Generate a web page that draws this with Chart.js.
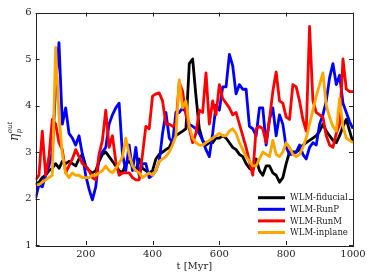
<!DOCTYPE html>
<html>
<head>
<meta charset="utf-8">
<script src="https://cdn.jsdelivr.net/npm/chart.js@4.4.0/dist/chart.umd.min.js"></script>
<style>
  html, body { margin: 0; padding: 0; background: #fff; }
  canvas { display: block; }
</style>
</head>
<body>
<canvas id="etaChart" width="374" height="280"></canvas>
<script>
// time in Myr
var times = [50, 60, 70, 80, 90, 100, 110, 120, 130, 140,
  150, 160, 170, 180, 190, 200, 210, 220, 230, 240,
  250, 260, 270, 280, 290, 300, 310, 320, 330, 340,
  350, 360, 370, 380, 390, 400, 410, 420, 430, 440,
  450, 460, 470, 480, 490, 500, 510, 520, 530, 540,
  550, 560, 570, 580, 590, 600, 610, 620, 630, 640,
  650, 660, 670, 680, 690, 700, 710, 720, 730, 740,
  750, 760, 770, 780, 790, 800, 810, 820, 830, 840,
  850, 860, 870, 880, 890, 900, 910, 920, 930, 940,
  950, 960, 970, 980, 990, 1000];

var fiducial = [2.3, 2.35, 2.45, 2.5, 2.6, 2.65, 2.75, 2.65, 2.8, 2.75,
  2.8, 2.75, 2.7, 2.85, 2.95, 2.7, 2.6, 2.55, 2.6, 2.8,
  2.95, 3.0, 2.9, 2.8, 2.7, 2.6, 2.55, 2.75, 2.8, 2.7,
  2.6, 2.85, 2.65, 2.6, 2.55, 2.6, 2.85, 2.95, 3.0, 3.05,
  3.1, 3.25, 3.35, 3.4, 3.45, 3.5, 4.9, 5.0, 4.2, 3.5,
  3.25, 3.15, 3.2, 3.2, 3.3, 3.3, 3.35, 3.3, 3.2, 3.1,
  3.05, 2.95, 2.9, 2.75, 2.65, 2.6, 2.85, 2.6, 2.5, 2.7,
  2.7, 2.55, 2.5, 2.35, 2.45, 2.75, 3.0, 3.0, 3.0, 3.05,
  3.15, 3.2, 3.25, 3.3, 3.35, 3.45, 3.6, 3.45, 3.35, 3.25,
  3.2, 3.35, 3.55, 3.7, 3.45, 3.2];

var runP = [2.0, 2.3, 2.25, 2.5, 2.7, 3.0, 4.4, 5.35, 3.6, 3.95,
  3.4, 3.3, 3.15, 3.35, 2.95, 2.5, 2.2, 1.97, 2.25, 2.9,
  3.0, 3.1, 3.6, 3.8, 3.95, 4.05, 2.95, 2.6, 3.15, 2.6,
  3.1, 2.5, 2.75, 2.75, 2.45, 2.5, 2.6, 2.8, 3.4, 3.85,
  3.3, 3.2, 3.85, 3.85, 3.95, 3.85, 3.6, 3.55, 3.5, 3.4,
  3.25, 3.05, 2.9, 3.4, 4.0, 3.9, 4.4, 4.4, 5.1, 4.85,
  4.25, 4.45, 4.35, 4.35, 3.55, 3.5, 3.35, 3.95, 3.95, 3.15,
  3.7, 3.95, 3.35, 3.8, 3.6, 3.1, 2.95, 2.95, 3.0, 3.15,
  2.95, 2.85, 3.1, 3.2, 3.15, 3.6, 3.8, 4.1, 4.6, 4.9,
  4.45, 4.65, 4.05, 3.85, 3.65, 3.5];

var runM = [2.4, 2.5, 3.45, 2.5, 2.9, 3.7, 3.6, 3.2, 3.05, 2.55,
  2.7, 2.85, 3.05, 2.9, 2.75, 2.7, 2.6, 2.45, 2.4, 2.95,
  3.25, 3.9, 3.1, 3.35, 2.8, 2.5, 2.55, 2.55, 2.55, 2.45,
  2.4, 2.4, 2.95, 3.55, 3.5, 4.2, 4.25, 4.27, 4.1, 3.6,
  3.6, 3.55, 3.6, 4.5, 4.3, 3.8, 3.5, 3.2, 3.4, 3.9,
  3.85, 4.7, 3.6, 4.1, 3.8, 4.45, 4.15, 4.05, 3.95, 3.8,
  3.85, 3.6, 3.35, 3.1, 2.8, 2.5, 3.5, 3.55, 3.5, 3.2,
  3.7, 4.3, 4.72, 4.1, 4.05, 3.75, 3.7, 4.45, 4.4, 4.1,
  3.7, 3.45, 5.7, 4.1, 3.85, 3.8, 3.75, 3.35, 3.15, 3.1,
  3.4, 3.6, 5.0, 4.35, 4.3, 4.3];

var inplane = [2.3, 2.3, 2.35, 2.4, 2.45, 2.5, 5.25, 3.8, 2.95, 2.55,
  2.45, 2.55, 2.5, 2.5, 2.45, 2.45, 2.45, 2.5, 2.5, 2.55,
  2.6, 2.7, 2.6, 2.55, 2.65, 2.75, 2.9, 3.3, 2.95, 2.7,
  2.6, 2.55, 2.45, 2.5, 2.55, 2.5, 2.6, 2.8, 2.85, 2.9,
  3.0, 3.15, 3.35, 4.55, 3.95, 4.1, 3.55, 3.3, 3.2, 3.15,
  3.15, 3.2, 3.25, 3.3, 3.35, 3.4, 3.35, 3.35, 3.45, 3.5,
  3.4, 3.2, 3.05, 2.9, 2.8, 2.7, 2.7, 2.85, 3.0, 2.95,
  2.9, 3.25, 2.95, 2.9, 3.0, 3.2, 3.1, 2.95, 2.9, 2.95,
  3.1, 3.3, 3.6, 3.9, 4.2, 4.45, 4.7, 4.0, 3.75, 3.55,
  3.45, 4.15, 3.55, 3.3, 3.25, 3.2];

var xTicks = [200, 400, 600, 800, 1000];
var yTicks = [1, 2, 3, 4, 5, 6];
var seriesNames = ['WLM-fiducial', 'WLM-RunP', 'WLM-RunM', 'WLM-inplane'];
var seriesColors = ['#000000', '#0000ff', '#ff0000', '#ffa500'];

var serif = 'DejaVu Serif';

function pts(vals) {
  return times.map(function (t, i) { return { x: t, y: vals[i] }; });
}

// frame with inward ticks, y label and legend, drawn matplotlib style
var decor = {
  id: 'decor',
  afterDatasetsDraw: function (chart) {
    var ctx = chart.ctx, a = chart.chartArea;
    var x = chart.scales.x, y = chart.scales.y;
    ctx.save();
    ctx.strokeStyle = '#222';
    ctx.lineWidth = 1;
    ctx.strokeRect(Math.round(a.left) + 0.5, Math.round(a.top) + 0.5,
      Math.round(a.right - a.left), Math.round(a.bottom - a.top));
    ctx.beginPath();
    xTicks.forEach(function (v) {
      var px = Math.round(x.getPixelForValue(v)) + 0.5;
      ctx.moveTo(px, a.bottom); ctx.lineTo(px, a.bottom - 4);
      ctx.moveTo(px, a.top); ctx.lineTo(px, a.top + 4);
    });
    yTicks.forEach(function (v) {
      var py = Math.round(y.getPixelForValue(v)) + 0.5;
      ctx.moveTo(a.left, py); ctx.lineTo(a.left + 4, py);
      ctx.moveTo(a.right, py); ctx.lineTo(a.right - 4, py);
    });
    ctx.stroke();

    // y axis label: eta_p^out
    ctx.translate(18, 141);
    ctx.rotate(-Math.PI / 2);
    ctx.fillStyle = '#222';
    ctx.textBaseline = 'alphabetic';
    ctx.font = 'italic 12px ' + serif;
    ctx.fillText('\u03b7', 0, 0);
    var w = ctx.measureText('\u03b7').width;
    ctx.font = 'italic 7px ' + serif;
    ctx.fillText('p', w + 0.5, 3);
    ctx.fillText('out', w + 0.5, -6);
    ctx.restore();

    // legend
    ctx.save();
    ctx.font = '8.5px ' + serif;
    ctx.textBaseline = 'middle';
    ctx.lineWidth = 3;
    var rows = [197.7, 209.3, 220.9, 232.5];
    chart.data.datasets.forEach(function (ds, i) {
      ctx.strokeStyle = ds.borderColor;
      ctx.beginPath();
      ctx.moveTo(258, rows[i]); ctx.lineTo(285, rows[i]);
      ctx.stroke();
      ctx.fillStyle = '#222';
      ctx.fillText(ds.label, 290, rows[i] + 0.5);
    });
    ctx.restore();
  }
};

var ctx = document.getElementById('etaChart').getContext('2d');
var etaChart = new Chart(ctx, {
  type: 'line',
  data: {
    datasets: [
      { label: seriesNames[0], data: pts(fiducial), borderColor: seriesColors[0], order: 3 },
      { label: seriesNames[1], data: pts(runP), borderColor: seriesColors[1], order: 2 },
      { label: seriesNames[2], data: pts(runM), borderColor: seriesColors[2], order: 1 },
      { label: seriesNames[3], data: pts(inplane), borderColor: seriesColors[3], order: 0 }
    ]
  },
  options: {
    responsive: false,
    animation: false,
    devicePixelRatio: 1,
    elements: {
      line: { borderWidth: 2.8, tension: 0, fill: false, borderJoinStyle: 'round' },
      point: { radius: 0 }
    },
    layout: { padding: { left: 0, right: 21, top: 12.5, bottom: 0 } },
    scales: {
      x: {
        type: 'linear',
        min: 50,
        max: 1000,
        afterBuildTicks: function (s) { s.ticks = xTicks.map(function (v) { return { value: v }; }); },
        afterFit: function (s) { s.height = 35; },
        grid: { display: false, drawTicks: false },
        border: { display: false },
        ticks: {
          color: '#222', padding: 3, maxRotation: 0, font: { family: serif, size: 10 },
          callback: function (v) { return String(v); }
        },
        title: { display: true, text: 't [Myr]', color: '#222', padding: { top: 0, bottom: 8 }, font: { family: serif, size: 10 } }
      },
      y: {
        min: 1,
        max: 6,
        afterBuildTicks: function (s) { s.ticks = yTicks.map(function (v) { return { value: v }; }); },
        afterFit: function (s) { s.width = 35.6; },
        grid: { display: false, drawTicks: false },
        border: { display: false },
        ticks: {
          color: '#222', padding: 4, font: { family: serif, size: 10 },
          callback: function (v) { return String(v); }
        }
      }
    },
    plugins: {
      legend: { display: false },
      tooltip: { enabled: false }
    }
  },
  plugins: [decor]
});
</script>
</body>
</html>
